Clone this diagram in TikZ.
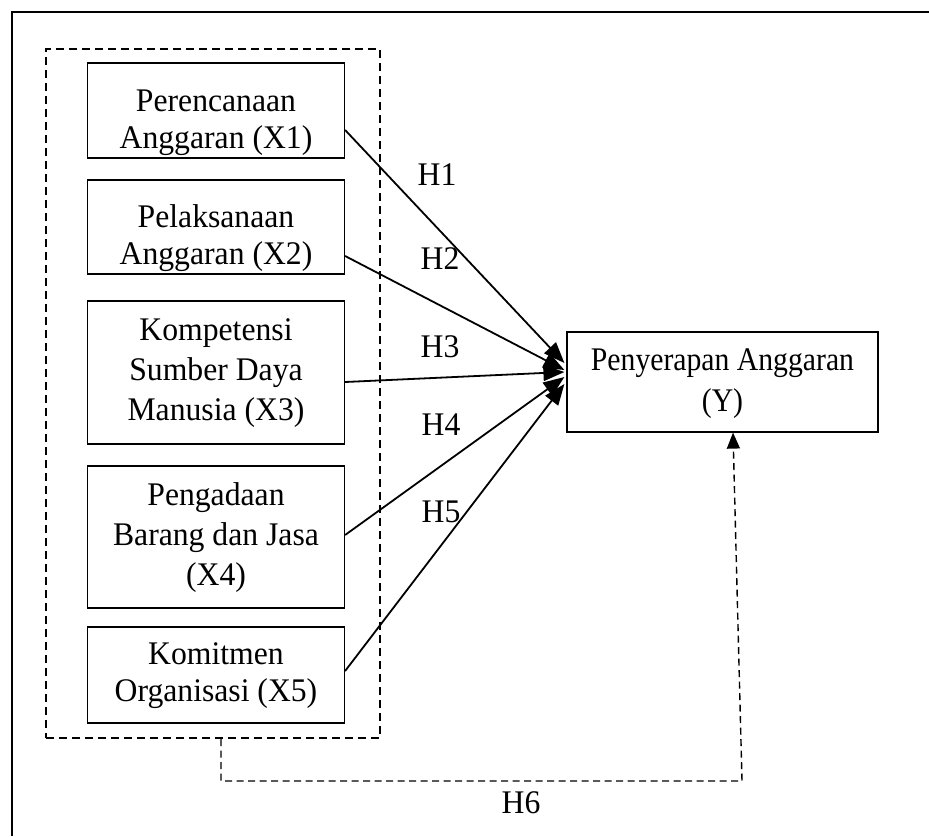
\documentclass[tikz,border=0pt]{standalone}
\usepackage{fontspec}
\setmainfont{Liberation Serif}
\usetikzlibrary{arrows.meta}
\newcommand\vtxt[3][0.96]{{\fontsize{33}{#2}\selectfont\scalebox{#1}[1]{\begin{tabular}{@{}c@{}}#3\end{tabular}}}}
\begin{document}
\begin{tikzpicture}[x=1pt,y=-1pt,
  varbox/.style={draw=black, line width=1.2pt, inner sep=0pt,
    minimum width=257pt},
  vartext/.style={inner sep=0pt},
  grpbox/.style={draw=black, line width=2pt, dash pattern=on 8pt off 5pt,
    inner sep=0pt, minimum width=334pt, minimum height=689pt},
  hyparr/.style={line width=1.8pt, -{Triangle[length=21pt,width=16pt]}},
  dcon/.style={line width=1.4pt, dash pattern=on 7pt off 4.5pt,
    -{Triangle[length=16pt,width=13pt]}},
  hlab/.style={inner sep=0pt}
]
\useasboundingbox (0,0) rectangle (929,836);
% outer frame (top and left edges)
\coordinate (fr1) at (929,12);
\coordinate (fr2) at (12,12);
\coordinate (fr3) at (12,836);
\draw[line width=2pt] (fr1) -- (fr2) -- (fr3);
% dashed group
\node[grpbox] (g) at (213,393.5) {};
% variable boxes
\node[varbox, minimum height=95pt] (x1) at (216,110.5) {};
\node[varbox, minimum height=94pt] (x2) at (216,227) {};
\node[varbox, minimum height=143pt] (x3) at (216,372.5) {};
\node[varbox, minimum height=142pt] (x4) at (216,537) {};
\node[varbox, minimum height=96pt] (x5) at (216,675) {};
\node[varbox, minimum width=311pt, minimum height=100pt] (y) at (722.5,382) {};
% box texts
\node[vartext] (x1t) at (216,123) {\vtxt{37}{Perencanaan\\Anggaran (X1)}};
\node[vartext] (x2t) at (216,239) {\vtxt{37}{Pelaksanaan\\Anggaran (X2)}};
\node[vartext] (x3t) at (216,372) {\vtxt{40}{Kompetensi\\Sumber Daya\\Manusia (X3)}};
\node[vartext] (x4t) at (216,537) {\vtxt{40}{Pengadaan\\Barang dan Jasa\\(X4)}};
\node[vartext] (x5t) at (216,676) {\vtxt{37}{Komitmen\\Organisasi (X5)}};
\node[vartext] (yt) at (722.5,383) {\vtxt[0.9]{41}{Penyerapan Anggaran\\(Y)}};
% hypothesis arrows
\draw[hyparr] ([yshift=-19.5pt]x1.east) -- ([xshift=-2pt,yshift=19pt]y.west);
\draw[hyparr] ([yshift=-29pt]x2.east) -- ([xshift=-2pt,yshift=12pt]y.west);
\draw[hyparr] ([yshift=-9.5pt]x3.east) -- ([xshift=-2pt,yshift=10pt]y.west);
\draw[hyparr] ([yshift=2pt]x4.east) -- ([xshift=-2pt,yshift=5pt]y.west);
\draw[hyparr] ([yshift=4pt]x5.east) -- ([xshift=-2pt,yshift=-2pt]y.west);
% labels
\node[hlab] (h1) at (437,178) {\vtxt{37}{H1}};
\node[hlab] (h2) at (440,262) {\vtxt{37}{H2}};
\node[hlab] (h3) at (440,350) {\vtxt{37}{H3}};
\node[hlab] (h4) at (441,428) {\vtxt{37}{H4}};
\node[hlab] (h5) at (441,515) {\vtxt{37}{H5}};
% H6 connector
\coordinate (c1) at (221,781);
\coordinate (c2) at (742,781);
\draw[dcon] ([xshift=8pt]g.south) -- (c1) -- (c2) -- ([xshift=10.5pt]y.south);
\node[hlab] (h6) at (521,806) {\vtxt{37}{H6}};
\end{tikzpicture}
\end{document}
